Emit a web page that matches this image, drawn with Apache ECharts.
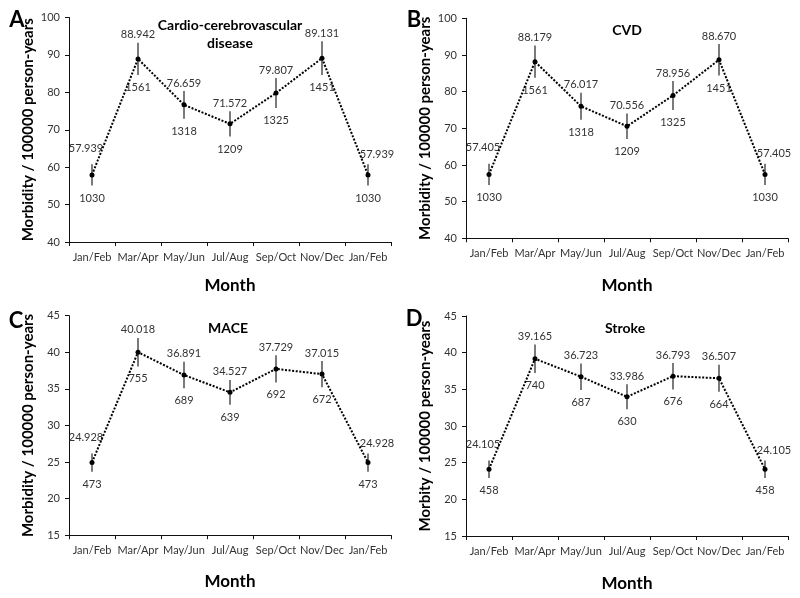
<!DOCTYPE html>
<html>
<head>
<meta charset="utf-8">
<script src="https://cdn.jsdelivr.net/npm/echarts@6/dist/echarts.min.js"></script>
<style>html,body{margin:0;padding:0;background:#fff}#c{width:800px;height:598px}</style>
</head>
<body>
<div id="c"></div>
<script>
const categories = ['Jan/Feb', 'Mar/Apr', 'May/Jun', 'Jul/Aug', 'Sep/Oct', 'Nov/Dec', 'Jan/Feb'];

const ccvdRate  = [57.939, 88.942, 76.659, 71.572, 79.807, 89.131, 57.939];
const ccvdCount = [1030, 1561, 1318, 1209, 1325, 1451, 1030];
const ccvdErr   = [2.85, 4.3, 3.7, 3.4, 4.0, 4.5, 2.85];

const cvdRate   = [57.405, 88.179, 76.017, 70.556, 78.956, 88.670, 57.405];
const cvdCount  = [1030, 1561, 1318, 1209, 1325, 1451, 1030];
const cvdErr    = [2.9, 4.4, 3.7, 3.5, 3.95, 4.3, 2.9];

const maceRate  = [24.928, 40.018, 36.891, 34.527, 37.729, 37.015, 24.928];
const maceCount = [473, 755, 689, 639, 692, 672, 473];
const maceErr   = [1.25, 1.95, 1.8, 1.7, 1.85, 1.8, 1.25];

const strokeRate  = [24.105, 39.165, 36.723, 33.986, 36.793, 36.507, 24.105];
const strokeCount = [458, 740, 687, 630, 676, 664, 458];
const strokeErr   = [1.2, 1.95, 1.8, 1.7, 1.8, 1.85, 1.2];

const ticksAB = {min: 40, max: 100, interval: 10};
const ticksCD = {min: 15, max: 45, interval: 5};

const FONT = 'Lato, "Open Sans", sans-serif';

const panels = [
  {rate: ccvdRate, count: ccvdCount, err: ccvdErr, ticks: ticksAB, yName: 'Morbidity / 100000 person-years',
   grid: {left: 69, top: 17.5, width: 322, height: 224.5}, xGap: 35},
  {rate: cvdRate, count: cvdCount, err: cvdErr, ticks: ticksAB, yName: 'Morbidity / 100000 person-years',
   grid: {left: 466, top: 18.3, width: 322, height: 220}, xGap: 39},
  {rate: maceRate, count: maceCount, err: maceErr, ticks: ticksCD, yName: 'Morbidity / 100000 person-years',
   grid: {left: 69, top: 315.7, width: 322, height: 219.5}, xGap: 38},
  {rate: strokeRate, count: strokeCount, err: strokeErr, ticks: ticksCD, yName: 'Morbity / 100000 person-years',
   grid: {left: 466, top: 316, width: 322, height: 220}, xGap: 39}
];

const grids = [], xAxes = [], yAxes = [], series = [];
panels.forEach((p, k) => {
  grids.push(p.grid);
  xAxes.push({
    type: 'category', gridIndex: k, data: categories, boundaryGap: true,
    axisLine: {lineStyle: {color: '#111', width: 1}},
    axisTick: {show: true, length: 4, lineStyle: {color: '#111'}},
    axisLabel: {interval: 0, fontSize: 11, color: '#333', margin: 10, fontFamily: FONT},
    splitLine: {show: false},
    name: 'Month', nameLocation: 'middle', nameGap: p.xGap,
    nameTextStyle: {fontSize: 17, fontWeight: 'bold', color: '#000', fontFamily: FONT}
  });
  yAxes.push({
    type: 'value', gridIndex: k, min: p.ticks.min, max: p.ticks.max, interval: p.ticks.interval,
    axisLine: {show: true, lineStyle: {color: '#111', width: 1}},
    axisTick: {show: true, length: 4, lineStyle: {color: '#111'}},
    axisLabel: {fontSize: 11, color: '#333', margin: 9, fontFamily: FONT},
    splitLine: {show: false},
    name: p.yName, nameLocation: 'middle', nameGap: 33,
    nameTextStyle: {fontSize: 15, fontWeight: 'bold', color: '#000', fontFamily: FONT}
  });
  const n = p.rate.length;
  series.push({
    type: 'custom', xAxisIndex: k, yAxisIndex: k, z: 2, clip: false,
    data: p.rate.map((v, i) => [i, v - p.err[i], v + p.err[i], v, p.count[i]]),
    encode: {x: 0, y: [1, 2]},
    renderItem: function (params, api) {
      const i = api.value(0);
      const hi = api.coord([i, api.value(2)]);
      const lo = api.coord([i, api.value(1)]);
      const first = params.dataIndex === 0, last = params.dataIndex === n - 1;
      const dx = first ? -6 : (last ? 9 : 0);
      const gap = first ? 16 : (last ? 10 : 8);
      return {
        type: 'group',
        children: [
          {type: 'line', shape: {x1: hi[0], y1: hi[1], x2: lo[0], y2: lo[1]},
           style: {stroke: '#333', lineWidth: 1.3}},
          {type: 'text', x: hi[0] + dx, y: hi[1] - gap,
           style: {text: api.value(3).toFixed(3), align: 'center', verticalAlign: 'middle',
                   font: '11px ' + FONT, fill: '#333'}},
          {type: 'text', x: lo[0], y: lo[1] + 12.5,
           style: {text: String(api.value(4)), align: 'center', verticalAlign: 'middle',
                   font: '11px ' + FONT, fill: '#333'}}
        ]
      };
    }
  });
  series.push({
    type: 'line', xAxisIndex: k, yAxisIndex: k, z: 3, data: p.rate,
    symbol: 'circle', symbolSize: 5, showSymbol: true,
    itemStyle: {color: '#000'},
    lineStyle: {color: '#000', width: 2, type: [2, 1.6]},
    label: {show: false}, animation: false
  });
});

const titleFont = 'bold 14px ' + FONT;
const letterFont = 'bold 22px ' + FONT;
const graphics = [
  {type: 'text', x: 230, y: 25, style: {text: 'Cardio-cerebrovascular', align: 'center', verticalAlign: 'middle', font: titleFont, fill: '#000'}},
  {type: 'text', x: 230, y: 43, style: {text: 'disease', align: 'center', verticalAlign: 'middle', font: titleFont, fill: '#000'}},
  {type: 'text', x: 627, y: 30, style: {text: 'CVD', align: 'center', verticalAlign: 'middle', font: titleFont, fill: '#000'}},
  {type: 'text', x: 228, y: 328, style: {text: 'MACE', align: 'center', verticalAlign: 'middle', font: titleFont, fill: '#000'}},
  {type: 'text', x: 625, y: 328, style: {text: 'Stroke', align: 'center', verticalAlign: 'middle', font: titleFont, fill: '#000'}},
  {type: 'text', x: 17, y: 20, style: {text: 'A', align: 'center', verticalAlign: 'middle', font: letterFont, fill: '#000'}},
  {type: 'text', x: 414, y: 20, style: {text: 'B', align: 'center', verticalAlign: 'middle', font: letterFont, fill: '#000'}},
  {type: 'text', x: 16, y: 321, style: {text: 'C', align: 'center', verticalAlign: 'middle', font: letterFont, fill: '#000'}},
  {type: 'text', x: 414, y: 319, style: {text: 'D', align: 'center', verticalAlign: 'middle', font: letterFont, fill: '#000'}}
];

const chart = echarts.init(document.getElementById('c'), null, {renderer: 'canvas'});
chart.setOption({
  animation: false,
  backgroundColor: '#fff',
  grid: grids, xAxis: xAxes, yAxis: yAxes, series: series,
  graphic: graphics
});
</script>
</body>
</html>
